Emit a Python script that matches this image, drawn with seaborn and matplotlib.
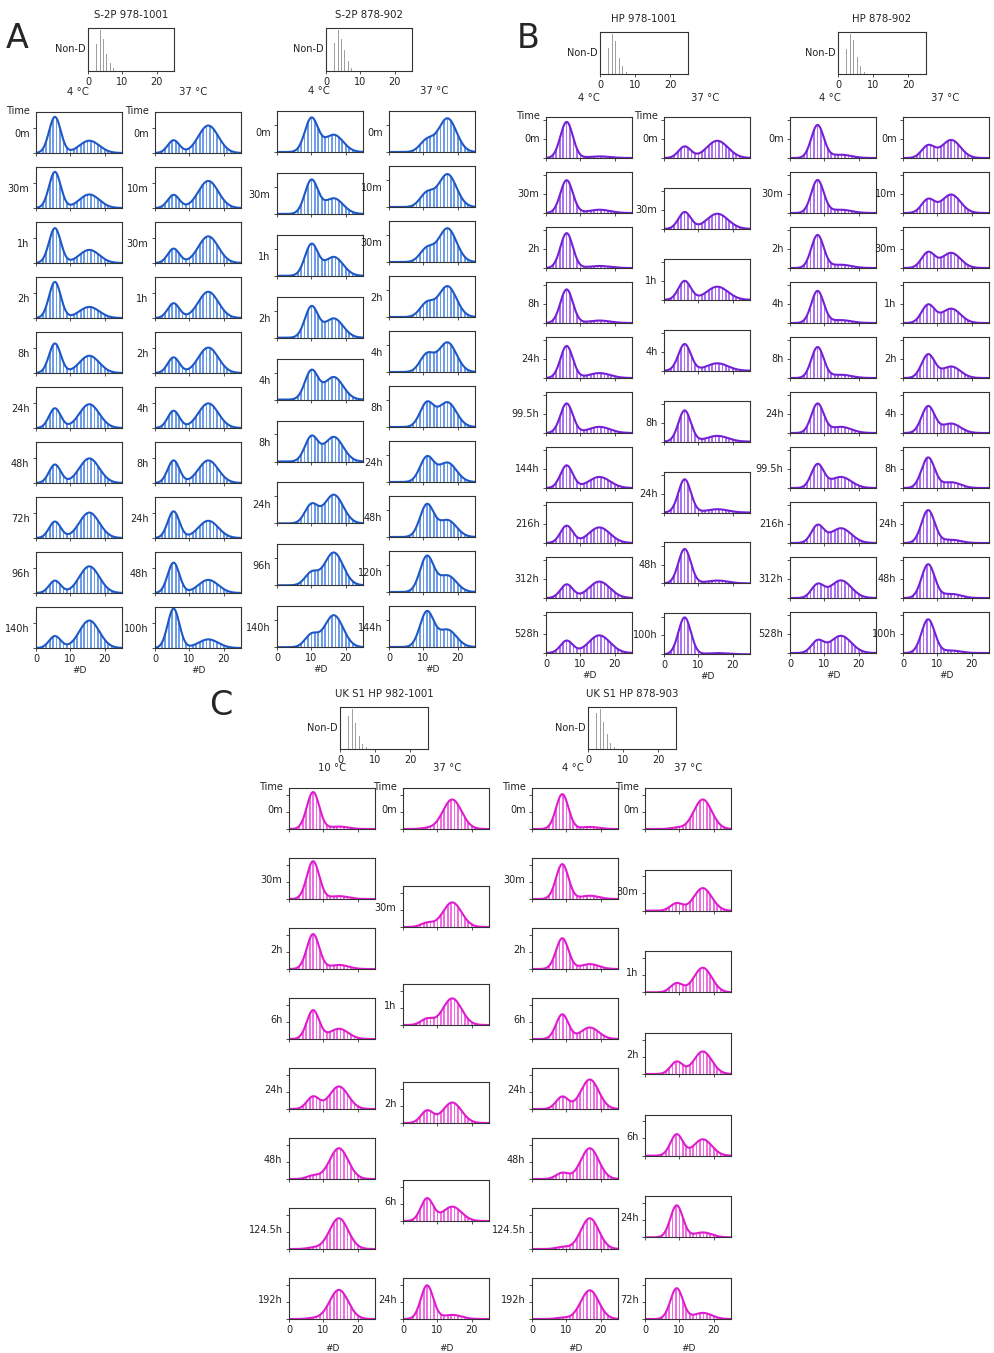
import numpy as np
import matplotlib
matplotlib.use("Agg")
import matplotlib.pyplot as plt
import seaborn as sns

sns.set_theme(style="ticks")
plt.rcParams["font.family"] = ["DejaVu Sans"]

W, H = 995, 1353
fig = plt.figure(figsize=(W / 100, H / 100), dpi=100)

# ---------------------------------------------------------------------------
# Deuterium-uptake distributions (#D).  Each row of a column is a two-state
# fit: relative height of the low-uptake and high-uptake populations.
# ---------------------------------------------------------------------------

# A  S-2P 978-1001
s2p978_nond = [0.62, 0.95, 0.75, 0.40, 0.18, 0.06]
s2p978_4c_times = ["0m", "30m", "1h", "2h", "8h", "24h", "48h", "72h", "96h", "140h"]
s2p978_4c_low = [0.88, 0.88, 0.85, 0.88, 0.72, 0.48, 0.45, 0.40, 0.30, 0.29]
s2p978_4c_high = [0.30, 0.33, 0.32, 0.27, 0.42, 0.58, 0.60, 0.62, 0.65, 0.67]
s2p978_37c_times = ["0m", "10m", "30m", "1h", "2h", "4h", "8h", "24h", "48h", "100h"]
s2p978_37c_low = [0.31, 0.32, 0.35, 0.36, 0.38, 0.42, 0.55, 0.65, 0.74, 0.96]
s2p978_37c_high = [0.67, 0.66, 0.65, 0.64, 0.62, 0.60, 0.55, 0.42, 0.32, 0.21]

# A  S-2P 878-902
s2p878_nond = [0.65, 0.95, 0.75, 0.48, 0.24, 0.08]
s2p878_4c_times = ["0m", "30m", "1h", "2h", "4h", "8h", "24h", "96h", "140h"]
s2p878_4c_low = [0.82, 0.82, 0.76, 0.75, 0.70, 0.60, 0.45, 0.30, 0.30]
s2p878_4c_high = [0.42, 0.38, 0.46, 0.47, 0.55, 0.60, 0.70, 0.80, 0.78]
s2p878_37c_times = ["0m", "10m", "30m", "2h", "4h", "8h", "24h", "48h", "120h", "144h"]
s2p878_37c_low = [0.28, 0.33, 0.32, 0.33, 0.42, 0.58, 0.60, 0.78, 0.86, 0.85]
s2p878_37c_high = [0.82, 0.80, 0.82, 0.75, 0.72, 0.60, 0.47, 0.41, 0.40, 0.42]

# B  HP 978-1001
hp978_nond = [0.63, 0.95, 0.78, 0.38, 0.20, 0.05]
hp978_4c_times = ["0m", "30m", "2h", "8h", "24h", "99.5h", "144h", "216h", "312h", "528h"]
hp978_4c_low = [0.88, 0.80, 0.85, 0.82, 0.78, 0.72, 0.55, 0.42, 0.33, 0.30]
hp978_4c_high = [0.04, 0.08, 0.05, 0.06, 0.12, 0.15, 0.27, 0.38, 0.40, 0.43]
hp978_37c_times = ["0m", "30m", "1h", "4h", "8h", "24h", "48h", "100h"]
hp978_37c_low = [0.28, 0.41, 0.46, 0.65, 0.76, 0.81, 0.84, 0.90]
hp978_37c_high = [0.42, 0.37, 0.32, 0.18, 0.14, 0.08, 0.07, 0.03]

# B  HP 878-902
hp878_nond = [0.60, 0.95, 0.80, 0.40, 0.20, 0.05]
hp878_4c_times = ["0m", "30m", "2h", "4h", "8h", "24h", "99.5h", "216h", "312h", "528h"]
hp878_4c_low = [0.80, 0.80, 0.80, 0.78, 0.75, 0.71, 0.57, 0.42, 0.32, 0.29]
hp878_4c_high = [0.08, 0.08, 0.08, 0.07, 0.08, 0.15, 0.27, 0.36, 0.43, 0.42]
hp878_37c_times = ["0m", "10m", "30m", "1h", "2h", "4h", "8h", "24h", "48h", "100h"]
hp878_37c_low = [0.30, 0.33, 0.38, 0.44, 0.57, 0.65, 0.74, 0.80, 0.82, 0.82]
hp878_37c_high = [0.44, 0.45, 0.37, 0.35, 0.28, 0.23, 0.14, 0.08, 0.10, 0.06]

# C  UK S1 HP 982-1001
uk982_nond = [0.78, 0.95, 0.63, 0.30, 0.12, 0.04]
uk982_10c_times = ["0m", "30m", "2h", "6h", "24h", "48h", "124.5h", "192h"]
uk982_10c_low = [0.90, 0.92, 0.85, 0.70, 0.30, 0.08, 0.03, 0.02]
uk982_10c_high = [0.06, 0.07, 0.10, 0.25, 0.55, 0.75, 0.75, 0.71]
uk982_37c_times = ["0m", "30m", "1h", "2h", "6h", "24h"]
uk982_37c_low = [0.02, 0.10, 0.15, 0.30, 0.55, 0.82]
uk982_37c_high = [0.72, 0.60, 0.65, 0.50, 0.35, 0.10]

# C  UK S1 HP 878-903
uk878_nond = [0.85, 0.95, 0.65, 0.35, 0.15, 0.05]
uk878_4c_times = ["0m", "30m", "2h", "6h", "24h", "48h", "124.5h", "192h"]
uk878_4c_low = [0.85, 0.85, 0.75, 0.60, 0.30, 0.15, 0.05, 0.03]
uk878_4c_high = [0.05, 0.08, 0.12, 0.28, 0.72, 0.75, 0.75, 0.70]
uk878_37c_times = ["0m", "30m", "1h", "2h", "6h", "24h", "72h"]
uk878_37c_low = [0.03, 0.18, 0.22, 0.30, 0.52, 0.78, 0.75]
uk878_37c_high = [0.72, 0.55, 0.60, 0.55, 0.40, 0.12, 0.15]

nond_bins = [2.5, 3.5, 4.5, 5.5, 6.5, 7.5]
d_bins = np.arange(1, 25)
d_fine = np.linspace(0, 25, 251)

BLUE = ("#1d58c6", "#6f9de8")
PURPLE = ("#7420d6", "#ad72ef")
MAGENTA = ("#de1ccd", "#ef6fe2")
SPINE = "#333333"


def px_axes(left, top, width, height):
    return fig.add_axes([left / W, 1 - (top + height) / H, width / W, height / H])


def fig_text(x, y, s, **kw):
    fig.text(x / W, 1 - y / H, s, **kw)


def style_axes(ax):
    for sp in ax.spines.values():
        sp.set_color(SPINE)
        sp.set_linewidth(0.8)
    ax.tick_params(axis="both", length=2.5, width=0.6, color=SPINE,
                   labelsize=7, pad=1.5, labelcolor="#222222")


def population(x, height, mu, sd):
    return height * np.exp(-0.5 * ((np.asarray(x) - mu) / sd) ** 2)


def draw_nond(left, top, width, height, title, heights):
    ax = px_axes(left, top, width, height)
    ax.bar(nond_bins, heights, width=0.3, color="#a0a0a0", linewidth=0)
    ax.set_xlim(0, 25)
    ax.set_ylim(0, 1.0)
    ax.set_xticks([0, 10, 20])
    ax.set_yticks([])
    style_axes(ax)
    ax.text(-0.03, 0.5, "Non-D", transform=ax.transAxes, ha="right",
            va="center", fontsize=7, color="#222222")
    ax.set_title(title, fontsize=7.3, pad=7, color="#222222")


def draw_column(left, tops, times, low, high, mu, sd, colors, yticks,
                time_header=True, xlabel_pad=1.5):
    line_c, bar_c = colors
    n = len(times)
    for i in range(n):
        ax = px_axes(left, tops[i], 86, 41)
        bars = population(d_bins, low[i], mu[0], sd[0]) + population(d_bins, high[i], mu[1], sd[1])
        curve = population(d_fine, low[i], mu[0], sd[0]) + population(d_fine, high[i], mu[1], sd[1])
        ax.bar(d_bins, bars, width=0.5, color=bar_c, linewidth=0)
        sns.lineplot(x=d_fine, y=curve, ax=ax, color=line_c, linewidth=1.5)
        ax.set_xlim(0, 25)
        ax.set_ylim(0, 1.0)
        ax.set_xticks([0, 10, 20])
        ax.set_yticks(yticks)
        ax.set_yticklabels([])
        style_axes(ax)
        ax.text(-0.075, 0.46, times[i], transform=ax.transAxes, ha="right",
                va="center", fontsize=7, color="#222222")
        if i == 0 and time_header:
            ax.text(-0.075, 1.02, "Time", transform=ax.transAxes, ha="right",
                    va="center", fontsize=7, color="#222222")
        if i == n - 1:
            ax.set_xlabel("#D", fontsize=6.5, labelpad=xlabel_pad, color="#222222")
        else:
            ax.set_xticklabels([])
            ax.set_xlabel("")
        ax.set_ylabel("")


def rows(top0, step, n):
    return [top0 + step * k for k in range(n)]


# ---------------- A ----------------
fig_text(17, 38, "A", fontsize=24, ha="center", va="center")
draw_nond(88, 28, 86, 43, "S-2P 978-1001", s2p978_nond)
fig_text(78, 92, "4 \u00b0C", fontsize=7.3, ha="center", va="center")
fig_text(193, 92, "37 \u00b0C", fontsize=7.3, ha="center", va="center")
draw_column(36, rows(112, 55, 10), s2p978_4c_times, s2p978_4c_low, s2p978_4c_high,
            (5.5, 15.5), (1.7, 2.9), BLUE, [0, 0.61])
draw_column(155, rows(112, 55, 10), s2p978_37c_times, s2p978_37c_low, s2p978_37c_high,
            (5.4, 15.5), (1.7, 2.9), BLUE, [0, 0.61])

draw_nond(326, 28, 86, 43, "S-2P 878-902", s2p878_nond)
fig_text(319, 91, "4 \u00b0C", fontsize=7.3, ha="center", va="center")
fig_text(434, 91, "37 \u00b0C", fontsize=7.3, ha="center", va="center")
draw_column(277, rows(111, 61.9, 9), s2p878_4c_times, s2p878_4c_low, s2p878_4c_high,
            (10.0, 16.5), (1.9, 2.7), BLUE, [0, 0.66], time_header=False)
draw_column(389, rows(111, 55, 10), s2p878_37c_times, s2p878_37c_low, s2p878_37c_high,
            (11.0, 17.0), (2.0, 2.6), BLUE, [0, 0.66], time_header=False)

# ---------------- B ----------------
fig_text(528, 38, "B", fontsize=24, ha="center", va="center")
draw_nond(600, 32, 88, 42, "HP 978-1001", hp978_nond)
fig_text(589, 98, "4 \u00b0C", fontsize=7.3, ha="center", va="center")
fig_text(705, 98, "37 \u00b0C", fontsize=7.3, ha="center", va="center")
draw_column(546, rows(117, 55, 10), hp978_4c_times, hp978_4c_low, hp978_4c_high,
            (6.0, 15.5), (1.8, 3.1), PURPLE, [0, 0.46, 0.92])
draw_column(664, rows(117, 70.9, 8), hp978_37c_times, hp978_37c_low, hp978_37c_high,
            (6.0, 15.5), (1.8, 3.1), PURPLE, [0, 0.46, 0.92])

draw_nond(838, 32, 88, 42, "HP 878-902", hp878_nond)
fig_text(830, 98, "4 \u00b0C", fontsize=7.3, ha="center", va="center")
fig_text(945, 98, "37 \u00b0C", fontsize=7.3, ha="center", va="center")
draw_column(790, rows(117, 55, 10), hp878_4c_times, hp878_4c_low, hp878_4c_high,
            (8.0, 14.8), (1.8, 3.0), PURPLE, [0, 0.46, 0.92], time_header=False)
draw_column(903, rows(117, 55, 10), hp878_37c_times, hp878_37c_low, hp878_37c_high,
            (7.3, 14.0), (1.9, 2.7), PURPLE, [0, 0.46, 0.92], time_header=False)

# ---------------- C ----------------
fig_text(221, 705, "C", fontsize=24, ha="center", va="center")
draw_nond(340, 707, 88, 42, "UK S1 HP 982-1001", uk982_nond)
fig_text(332, 768, "10 \u00b0C", fontsize=7.3, ha="center", va="center")
fig_text(447, 768, "37 \u00b0C", fontsize=7.3, ha="center", va="center")
draw_column(289, rows(788, 70, 8), uk982_10c_times, uk982_10c_low, uk982_10c_high,
            (7.0, 14.5), (1.8, 2.7), MAGENTA, [0, 0.42, 0.84], xlabel_pad=7)
draw_column(403, rows(788, 98, 6), uk982_37c_times, uk982_37c_low, uk982_37c_high,
            (7.0, 14.3), (1.8, 2.7), MAGENTA, [0, 0.42, 0.84], xlabel_pad=7)

draw_nond(588, 707, 88, 42, "UK S1 HP 878-903", uk878_nond)
fig_text(573, 768, "4 \u00b0C", fontsize=7.3, ha="center", va="center")
fig_text(688, 768, "37 \u00b0C", fontsize=7.3, ha="center", va="center")
draw_column(532, rows(788, 70, 8), uk878_4c_times, uk878_4c_low, uk878_4c_high,
            (8.8, 16.8), (1.8, 2.6), MAGENTA, [0, 0.42, 0.84], xlabel_pad=7)
draw_column(645, rows(788, 81.67, 7), uk878_37c_times, uk878_37c_low, uk878_37c_high,
            (9.2, 16.8), (1.8, 2.6), MAGENTA, [0, 0.42, 0.84], xlabel_pad=7)

fig.savefig("out.png", dpi=100, facecolor="white")
